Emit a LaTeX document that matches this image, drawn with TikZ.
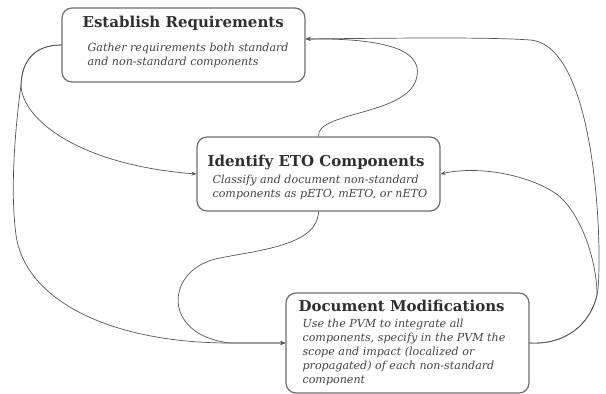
\documentclass[tikz,border=0pt]{standalone}
\usepackage{fontspec}
\setmainfont{DejaVu Serif}
\usetikzlibrary{positioning,calc,arrows.meta}

\definecolor{boxgray}{HTML}{6E6E6E}
\definecolor{linegray}{HTML}{555555}
\definecolor{headgray}{HTML}{303030}
\definecolor{notegray}{HTML}{444444}

\begin{document}
\begin{tikzpicture}[x=1pt, y=-1pt,
    stagebox/.style={draw=boxgray, line width=1.2pt, rounded corners=10pt, fill=white,
        minimum width=243pt, minimum height=74pt, inner sep=0pt},
    head/.style={font=\fontsize{15}{18}\selectfont\bfseries, text=headgray, inner sep=0pt, anchor=base west},
    note/.style={font=\fontsize{11.1}{14}\selectfont\itshape, text=notegray, inner sep=0pt, align=left, anchor=north west},
    flow/.style={draw=linegray, line width=0.7pt, -{Stealth[length=5pt, width=4pt]}}]

    \useasboundingbox (0,0) rectangle (606,394);

    % Stages
    \node[stagebox] (req) at (183.5,45) {};
    \node[stagebox] (eto) at (318.5,174) {};
    \node[stagebox, minimum height=100pt] (mod) at (407.5,343) {};

    \node[head] (reqhead) at ($(req.north west)+(21,20)$) {Establish Requirements};
    \node[note] (reqnote) at ($(req.north west)+(26,35.5)$) {Gather requirements both standard\\and non-standard components};

    \node[head] (etohead) at ($(eto.north west)+(11,30)$) {Identify ETO Components};
    \node[note] (etonote) at ($(eto.north west)+(16,38.5)$) {Classify and document non-standard\\components as pETO, mETO, or nETO};

    \node[head] (modhead) at ($(mod.north west)+(13,19)$) {Document Modifications};
    \node[note] (modnote) at ($(mod.north west)+(17,26.5)$) {Use the PVM to integrate all\\components, specify in the PVM the\\scope and impact (localized or\\propagated) of each non-standard\\component};

    % Establish -> Identify, Establish -> Document
    \draw[flow] (req.west) .. controls (35,45) and (22,60) .. (21,85)
        .. controls (22,120) and (80,165) .. (eto.west);
    \draw[flow] (req.west) .. controls (35,45) and (22,60) .. (21,85)
        .. controls (15,130) and (10,190) .. (16,235)
        .. controls (25,300) and (110,343) .. (230,343) -- (mod.west);

    % Identify -> Establish, Identify -> Document
    \draw[flow] (eto.north) .. controls (316,112) and (405,115) .. (416,80)
        .. controls (424,55) and (400,38) .. ([yshift=6pt]req.east);
    \draw[flow] (eto.south) .. controls (318,245) and (260,250) .. (220,258)
        .. controls (165,268) and (160,335) .. (230,343) -- (mod.west);

    % Document -> Establish, Document -> Identify
    \draw[flow] (mod.east) .. controls (565,345) and (590,325) .. (597,295)
        .. controls (603,270) and (600,45) .. (530,40)
        .. controls (490,37) and (400,38) .. ([yshift=6pt]req.east);
    \draw[flow] (mod.east) .. controls (565,345) and (590,325) .. (597,295)
        .. controls (597,260) and (580,210) .. (555,193)
        .. controls (530,176) and (480,165) .. (eto.east);
\end{tikzpicture}
\end{document}
